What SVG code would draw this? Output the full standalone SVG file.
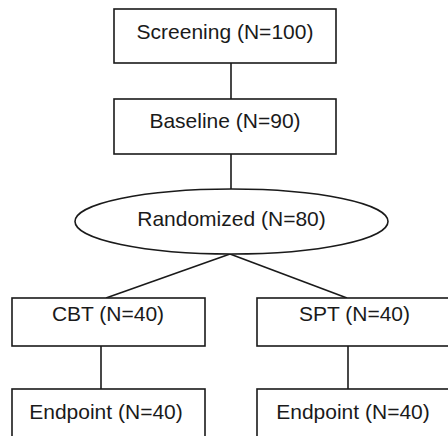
<svg xmlns="http://www.w3.org/2000/svg" width="448" height="436" viewBox="0 0 448 436">
<style>
.box{fill:#fff;stroke:#1a1a1a;stroke-width:1.6}
.lbl{font-family:"Liberation Sans",Arial,sans-serif;font-size:21px;fill:#1a1a1a;text-anchor:middle}
.con{stroke:#1a1a1a;stroke-width:1.6;fill:none}
</style>
<rect width="448" height="436" fill="#fff"/>
<g id="connectors">
<line class="con" x1="231" y1="63" x2="231" y2="99"/>
<line class="con" x1="231" y1="154" x2="231" y2="189"/>
<line class="con" x1="230" y1="254" x2="106" y2="298"/>
<line class="con" x1="230" y1="254" x2="347" y2="298"/>
<line class="con" x1="101" y1="346" x2="101" y2="389"/>
<line class="con" x1="348" y1="346" x2="348" y2="389"/>
</g>
<g id="screening"><rect class="box" x="114" y="9" width="222" height="54"/><text class="lbl" x="225" y="39">Screening (N=100)</text></g>
<g id="baseline"><rect class="box" x="114" y="99" width="222" height="55"/><text class="lbl" x="225" y="128">Baseline (N=90)</text></g>
<g id="randomized"><ellipse class="box" cx="231.5" cy="221.5" rx="156.5" ry="32.5"/><text class="lbl" x="231.5" y="226">Randomized (N=80)</text></g>
<g id="cbt"><rect class="box" x="12" y="298" width="193" height="48"/><text class="lbl" x="108" y="321">CBT (N=40)</text></g>
<g id="spt"><rect class="box" x="257" y="298" width="200" height="48"/><text class="lbl" x="354.5" y="321">SPT (N=40)</text></g>
<g id="endpoint1"><rect class="box" x="12" y="389" width="193" height="60"/><text class="lbl" x="106" y="419">Endpoint (N=40)</text></g>
<g id="endpoint2"><rect class="box" x="257" y="389" width="200" height="60"/><text class="lbl" x="353" y="419">Endpoint (N=40)</text></g>
</svg>
